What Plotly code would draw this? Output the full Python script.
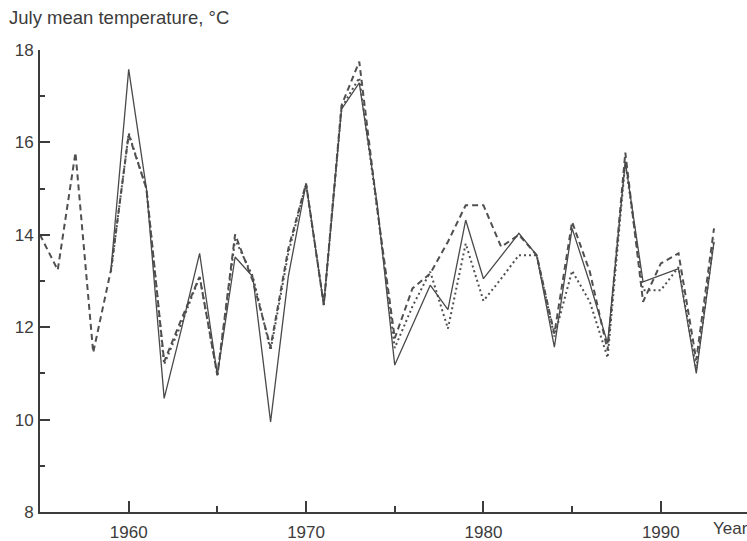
import plotly.graph_objects as go

# Years
years_dashed = list(range(1955, 1994))
years_solid = list(range(1959, 1994))
years_dotted = list(range(1959, 1994))

# Series values (July mean temperature, °C)
dashed = [14.0, 13.24, 15.78, 11.45, 13.24, 16.17, 15.0, 11.25, 12.2, 13.09,
          10.96, 14.01, 13.0, 11.57, 13.7, 15.11, 12.48, 16.8, 17.75, 14.6,
          11.76, 12.84, 13.16, 13.85, 14.64, 14.64, 13.74, 14.0, 13.56, 11.86,
          14.28, 13.2, 11.5, 15.78, 12.55, 13.38, 13.6, 11.29, 14.14]
solid = [13.24, 17.58, 15.0, 10.46, 12.0, 13.6, 10.96, 13.52, 13.09, 9.95,
         13.1, 15.11, 12.48, 16.72, 17.29, 14.7, 11.18, 12.06, 12.91, 12.38,
         14.32, 13.05, 13.55, 14.03, 13.56, 11.57, 14.14, 12.95, 11.65, 15.58,
         12.98, 13.13, 13.27, 11.0, 13.85]
dotted = [13.2, 16.2, 15.0, 11.2, 12.1, 13.1, 10.96, 13.9, 13.1, 11.5,
          13.6, 15.1, 12.48, 16.75, 17.4, 14.6, 11.55, 12.45, 13.2, 11.97,
          13.81, 12.57, 13.05, 13.56, 13.56, 11.8, 13.22, 12.55, 11.34, 15.58,
          12.8, 12.8, 13.3, 11.1, 13.9]

y_ticks = [8, 10, 12, 14, 16, 18]
x_ticks = [1960, 1970, 1980, 1990]

ink = "#3c3c3c"
font = "Liberation Sans, Arial, sans-serif"

fig = go.Figure()
fig.add_trace(go.Scatter(x=years_dotted, y=dotted, mode="lines",
                         line=dict(color="#505050", width=2, dash="2px,3px"),
                         showlegend=False))
fig.add_trace(go.Scatter(x=years_dashed, y=dashed, mode="lines",
                         line=dict(color="#505050", width=2, dash="6px,4px"),
                         showlegend=False))
fig.add_trace(go.Scatter(x=years_solid, y=solid, mode="lines",
                         line=dict(color="#4a4a4a", width=1.3),
                         showlegend=False))

fig.update_layout(
    width=747, height=541,
    margin=dict(l=40, r=0, t=50, b=29),
    paper_bgcolor="white", plot_bgcolor="white",
    font=dict(family=font, size=17, color=ink),
    xaxis=dict(range=[1955, 1994.86], showgrid=False, zeroline=False,
               showline=True, linecolor=ink, linewidth=2,
               tickmode="array", tickvals=x_ticks,
               ticktext=[str(v) for v in x_ticks],
               ticks="inside", ticklen=11, tickwidth=1.5, tickcolor=ink,
               ticklabelstandoff=4,
               minor=dict(tickvals=[1965, 1975, 1985], ticks="inside",
                          ticklen=6, tickwidth=1.5, tickcolor=ink)),
    yaxis=dict(range=[8, 18], showgrid=False, zeroline=False,
               showline=True, linecolor=ink, linewidth=2,
               tickmode="array", tickvals=y_ticks,
               ticktext=[str(v) for v in y_ticks],
               ticks="inside", ticklen=10, tickwidth=1.5, tickcolor=ink,
               ticklabelstandoff=1,
               minor=dict(tickvals=[9, 11, 13, 15, 17], ticks="inside",
                          ticklen=5, tickwidth=1.5, tickcolor=ink)),
    annotations=[
        dict(text="July mean temperature, °C", xref="paper", yref="paper",
             x=(7 - 40) / 707, y=(512 - 18) / 462, xanchor="left",
             yanchor="middle", showarrow=False,
             font=dict(family=font, size=18.5, color=ink)),
        dict(text="Year", xref="paper", yref="paper",
             x=(711 - 40) / 707, y=(512 - 528) / 462, xanchor="left",
             yanchor="middle", showarrow=False,
             font=dict(family=font, size=17, color=ink)),
    ],
)

fig.write_html("out.html")
